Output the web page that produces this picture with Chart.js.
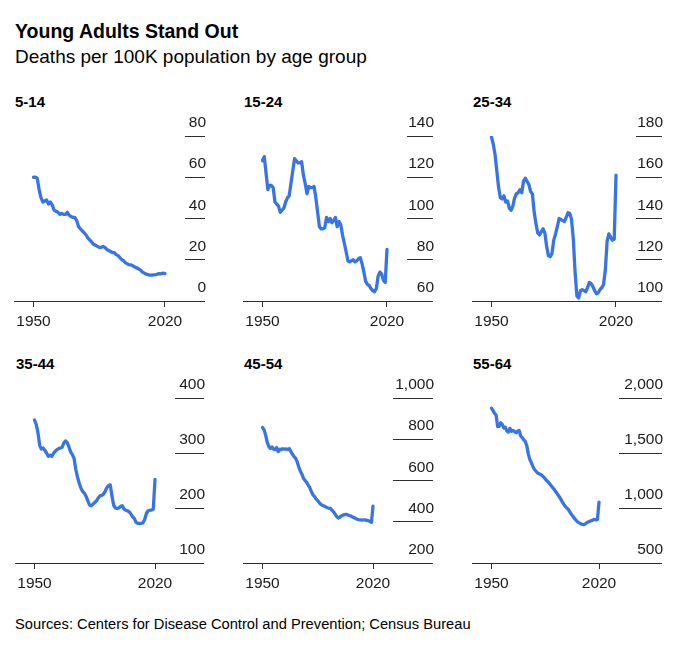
<!DOCTYPE html>
<html>
<head>
<meta charset="utf-8">
<script src="https://cdn.jsdelivr.net/npm/chart.js@4.4.0/dist/chart.umd.min.js"></script>
<style>
  body { margin: 0; background: #fff; font-family: "Liberation Sans", Arial, sans-serif; color: #000; }
  #wrap { position: relative; width: 680px; height: 646px; overflow: hidden; background: #fff; }
  .txt { position: absolute; line-height: 1; white-space: nowrap; }
  canvas { position: absolute; }
</style>
</head>
<body>
<div id="wrap">
  <div class="txt" style="left:15px;top:21.5px;font-size:19.5px;font-weight:bold;">Young Adults Stand Out</div>
  <div class="txt" style="left:15px;top:47px;font-size:19px;">Deaths per 100K population by age group</div>
  <div class="txt" style="left:15px;top:616.6px;font-size:14.7px;">Sources: Centers for Disease Control and Prevention; Census Bureau</div>
</div>
<script>
/* Data */

const years = [
  1950, 1951, 1952, 1953, 1954, 1955, 1956, 1957, 1958, 1959,
  1960, 1961, 1962, 1963, 1964, 1965, 1966, 1967, 1968, 1969,
  1970, 1971, 1972, 1973, 1974, 1975, 1976, 1977, 1978, 1979,
  1980, 1981, 1982, 1983, 1984, 1985, 1986, 1987, 1988, 1989,
  1990, 1991, 1992, 1993, 1994, 1995, 1996, 1997, 1998, 1999,
  2000, 2001, 2002, 2003, 2004, 2005, 2006, 2007, 2008, 2009,
  2010, 2011, 2012, 2013, 2014, 2015, 2016, 2017, 2018, 2019,
  2020,
];

const xTicks = [1950, 2020];

const deaths5to14 = [
  60, 60, 59.5, 54, 50, 48, 48.5, 49, 47, 48,
  46.5, 44, 43.5, 43, 42, 42.5, 42, 42, 43, 41.5,
  41, 40.5, 40.5, 39, 36, 35, 34, 33, 32, 30.5,
  29.5, 28.5, 27.5, 27, 26.5, 26, 26, 26.5, 26, 25,
  24.5, 24, 23.5, 23.5, 22.5, 22, 21, 20, 19.5, 18.5,
  18, 17.5, 17.5, 17, 16.5, 16, 15.5, 15, 14, 13.5,
  13, 12.8, 12.5, 12.5, 12.7, 12.8, 13, 13.3, 13.2, 13.5,
  13.3,
];

const deaths15to24 = [
  128, 130, 122, 114, 116, 116, 115, 108, 107, 106,
  103, 104, 105, 108, 110, 111, 117, 123, 129, 128,
  127, 127, 127.5, 121, 117, 112, 115.5, 115, 115, 115.5,
  110, 103, 96, 95, 95, 95.5, 100.5, 98.5, 100, 98,
  99, 100.5, 96, 98.5, 97, 92, 88, 84, 79.5, 79,
  79.5, 80, 79, 79.5, 80.5, 81, 78, 74, 69.5, 68,
  67.5, 66, 65, 64.5, 66, 72, 74, 73, 70, 69,
  85,
];

const deaths25to34 = [
  179.5, 176, 171, 163, 155, 150, 149.5, 151, 148, 148.5,
  145, 144, 146, 150, 152, 152.5, 154, 152.5, 158, 159.5,
  158, 156.5, 153, 152, 143, 137.5, 133, 132, 133.5, 135,
  133, 126.5, 122, 121.5, 123, 129.5, 132.5, 136, 140, 139.5,
  139, 138.5, 140.5, 142.8, 142.5, 139.5, 130, 114, 102.5, 101.5,
  105, 105.5, 105, 104.5, 106.5, 109, 108.5, 107, 105, 103.5,
  104, 105.5, 106.5, 108, 115, 129, 132.5, 131, 129.5, 130,
  161,
];

const deaths35to44 = [
  360, 352, 337, 314, 307, 309, 305, 300, 294, 296,
  294, 299, 303, 306, 308, 309, 310, 318, 322, 319,
  311, 302, 297, 290, 270, 256, 245, 236, 230, 227,
  221, 213, 205, 204, 207, 210, 213, 218, 222, 223,
  225, 230, 237, 241, 242, 222, 205, 200, 199, 200,
  203, 204, 198, 196, 195, 193, 189, 184, 181, 174,
  172, 172, 172, 173, 179, 190, 195, 196, 196, 198,
  252,
];

const deaths45to54 = [
  857, 846, 820, 785, 765, 755, 763, 752, 750, 760,
  740, 752, 750, 754, 752, 753, 750, 755, 740, 727,
  716, 707, 690, 665, 645, 630, 610, 600, 590, 577,
  565, 545, 530, 522, 510, 502, 492, 484, 479, 476,
  472, 468, 466, 465, 456, 448, 437, 425, 418, 423,
  428, 432, 435, 436, 433, 430, 428, 423, 420, 416,
  412, 410, 409, 408, 409, 409, 407, 405, 402, 397,
  476,
];

const deaths55to64 = [
  1907, 1885, 1860, 1845, 1740, 1742, 1775, 1760, 1728, 1735,
  1700, 1690, 1724, 1698, 1705, 1695, 1683, 1700, 1705, 1655,
  1640, 1620, 1605, 1565, 1490, 1440, 1410, 1375, 1350, 1334,
  1318, 1310, 1305, 1295, 1280, 1265, 1248, 1235, 1218, 1200,
  1183, 1165, 1145, 1125, 1105, 1082, 1058, 1035, 1015, 1000,
  988, 965, 943, 925, 905, 890, 875, 865, 858, 852,
  849, 855, 866, 873, 880, 885, 890, 897, 892, 896,
  1054,
];

const yTicks5to14 = [0, 20, 40, 60, 80];
const yTicks15to24 = [60, 80, 100, 120, 140];
const yTicks25to34 = [100, 120, 140, 160, 180];
const yTicks35to44 = [100, 200, 300, 400];
const yTicks45to54 = [200, 400, 600, 800, 1000];
const yTicks55to64 = [500, 1000, 1500, 2000];

const panels = [
  { title: "5-14", values: deaths5to14, yTicks: yTicks5to14 },
  { title: "15-24", values: deaths15to24, yTicks: yTicks15to24 },
  { title: "25-34", values: deaths25to34, yTicks: yTicks25to34 },
  { title: "35-44", values: deaths35to44, yTicks: yTicks35to44 },
  { title: "45-54", values: deaths45to54, yTicks: yTicks45to54 },
  { title: "55-64", values: deaths55to64, yTicks: yTicks55to64 },
];

/* Placement of each small chart on the page */

const boxes = [
  { axisLeft: 14, axisRight: 205, top: 136, bottom: 301, tick: 20 },
  { axisLeft: 243, axisRight: 433, top: 136, bottom: 301, tick: 26 },
  { axisLeft: 472, axisRight: 662, top: 136, bottom: 301, tick: 26 },
  { axisLeft: 15, axisRight: 204, top: 398, bottom: 563, tick: 29 },
  { axisLeft: 243, axisRight: 433, top: 398, bottom: 563, tick: 40 },
  { axisLeft: 472, axisRight: 662, top: 398, bottom: 563, tick: 43 },
];

const fontFamily = "'Liberation Sans', Arial, sans-serif";
const lineColor = "#3874e4";
const axisColor = "#2e2e2e";
const textColor = "#1a1a1a";
const padTop = 22;
const padLeft = 14;
const padRight = 10;
const xAxisHeight = 36;

// y labels sit on top of their tick lines, right aligned to the line end
const yLabelPlugin = {
  id: "yLabels",
  afterDraw(chart) {
    const scale = chart.scales.y;
    const ctx = chart.ctx;
    ctx.save();
    ctx.font = "15.5px " + fontFamily;
    ctx.fillStyle = textColor;
    ctx.textAlign = "right";
    ctx.textBaseline = "alphabetic";
    scale.ticks.forEach((tick) => {
      const y = scale.getPixelForValue(tick.value);
      ctx.fillText(tick.value.toLocaleString("en-US"), scale.right + 1, y - 9);
    });
    ctx.restore();
  },
};

const wrap = document.getElementById("wrap");

panels.forEach((panel, i) => {
  const box = boxes[i];

  const label = document.createElement("div");
  label.className = "txt";
  label.style.left = box.axisLeft + 1 + "px";
  label.style.top = box.top - 41.7 + "px";
  label.style.fontSize = "15px";
  label.style.fontWeight = "bold";
  label.textContent = panel.title;
  wrap.appendChild(label);

  const width = box.axisRight - box.axisLeft + padLeft + padRight;
  const height = padTop + (box.bottom - box.top) + xAxisHeight;

  const canvas = document.createElement("canvas");
  canvas.width = width;
  canvas.height = height;
  canvas.style.width = width + "px";
  canvas.style.height = height + "px";
  canvas.style.left = box.axisLeft - padLeft + "px";
  canvas.style.top = box.top - padTop + "px";
  wrap.appendChild(canvas);

  // keep 1950 and 2020 about 20px in from the ends of the plot
  const plotWidth = box.axisRight - box.axisLeft - box.tick;
  const perYear = (plotWidth - 39.5) / 70;
  const xMin = xTicks[0] - 19.5 / perYear;
  const xMax = xTicks[1] + 20 / perYear;

  const yMin = panel.yTicks[0];
  const yMax = panel.yTicks[panel.yTicks.length - 1];

  new Chart(canvas, {
    type: "line",
    data: {
      datasets: [
        {
          data: years.map((year, j) => ({ x: year, y: panel.values[j] })),
          borderColor: lineColor,
          borderWidth: 3.3,
          pointRadius: 0,
          tension: 0,
          fill: false,
          borderJoinStyle: "round",
          borderCapStyle: "round",
        },
      ],
    },
    options: {
      responsive: false,
      animation: false,
      devicePixelRatio: 1,
      layout: {
        padding: { top: padTop, left: padLeft, right: padRight, bottom: 0 },
      },
      plugins: {
        legend: { display: false },
        tooltip: { enabled: false },
        title: { display: false },
      },
      scales: {
        x: {
          type: "linear",
          min: xMin,
          max: xMax,
          afterBuildTicks: (axis) => {
            axis.ticks = xTicks.map((v) => ({ value: v }));
          },
          afterFit: (axis) => {
            axis.height = xAxisHeight;
          },
          border: { display: false },
          grid: {
            drawOnChartArea: false,
            drawTicks: true,
            tickLength: 6,
            color: axisColor,
            lineWidth: 1,
          },
          ticks: {
            padding: 5,
            maxRotation: 0,
            autoSkip: false,
            color: textColor,
            font: { family: fontFamily, size: 15.5 },
            callback: (value) => String(value),
          },
        },
        y: {
          position: "right",
          min: yMin,
          max: yMax,
          afterBuildTicks: (axis) => {
            axis.ticks = panel.yTicks.map((v) => ({ value: v }));
          },
          afterFit: (axis) => {
            axis.width = box.tick;
          },
          border: { display: false },
          grid: {
            drawOnChartArea: true,
            drawTicks: true,
            tickLength: box.tick,
            lineWidth: 1,
            tickColor: axisColor,
            color: (ctx) =>
              ctx.tick && ctx.tick.value === yMin ? axisColor : "rgba(0,0,0,0)",
          },
          ticks: { display: false },
        },
      },
    },
    plugins: [yLabelPlugin],
  });
});
</script>
</body>
</html>
